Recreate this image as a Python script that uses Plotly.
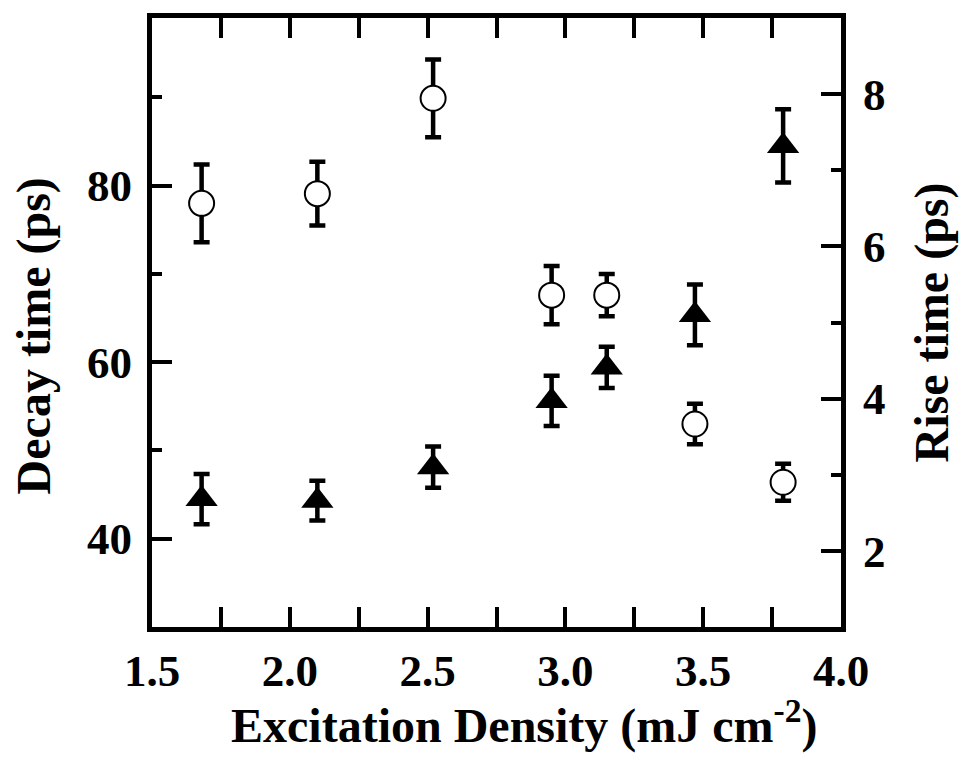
import plotly.graph_objects as go

# ---- data ----
density = [1.68, 2.10, 2.52, 2.95, 3.15, 3.47, 3.79]          # mJ cm^-2
decay_time = [78.0, 79.1, 89.9, 67.6, 67.6, 53.0, 46.4]       # ps (left axis)
decay_err = [4.4, 3.6, 4.4, 3.3, 2.4, 2.3, 2.1]
rise_time = [2.68, 2.66, 3.10, 3.97, 4.41, 5.10, 7.32]        # ps (right axis)
rise_err = [0.33, 0.26, 0.27, 0.33, 0.27, 0.40, 0.48]

x_ticks = [1.5, 2.0, 2.5, 3.0, 3.5, 4.0]
x_ticklabels = ["1.5", "2.0", "2.5", "3.0", "3.5", "4.0"]
left_ticks = [40, 60, 80]
right_ticks = [2, 4, 6, 8]

x_title = "Excitation Density (mJ cm<sup>-2</sup>)"
left_title = "Decay time (ps)"
right_title = "Rise time (ps)"

FONT = "Liberation Serif"
TICK_SIZE = 45
TITLE_SIZE = 48

fig = go.Figure()
fig.add_trace(go.Scatter(
    x=density, y=decay_time, mode="markers", yaxis="y",
    marker=dict(symbol="circle", size=25, color="white",
                line=dict(color="black", width=2)),
    error_y=dict(type="data", array=decay_err, visible=True,
                 color="black", thickness=4.5, width=8),
    showlegend=False,
))
fig.add_trace(go.Scatter(
    x=density, y=rise_time, mode="markers", yaxis="y2",
    marker=dict(symbol="triangle-up", size=28, color="black",
                line=dict(color="black", width=0)),
    error_y=dict(type="data", array=rise_err, visible=True,
                 color="black", thickness=4.5, width=8),
    showlegend=False,
))

axis_common = dict(
    showline=True, linecolor="black", linewidth=5,
    ticks="inside", ticklen=20, tickwidth=4, tickcolor="black",
    showgrid=False, zeroline=False,
    tickfont=dict(family=FONT, size=TICK_SIZE, color="black", weight="bold"),
)

title_font = dict(family=FONT, size=TITLE_SIZE, color="black", weight="bold")

fig.update_layout(
    width=960, height=760,
    margin=dict(l=152, r=119, t=18, b=133),
    paper_bgcolor="white", plot_bgcolor="white",
    font=dict(family=FONT, color="black", weight="bold"),
    xaxis=dict(
        range=[1.5, 4.0], tickvals=x_ticks, ticktext=x_ticklabels,
        mirror="allticks",
        minor=dict(dtick=0.25, tick0=1.5, ticks="inside", ticklen=10,
                   tickwidth=4, tickcolor="black"),
        **axis_common,
    ),
    yaxis=dict(
        range=[30, 99], tickvals=left_ticks,
        minor=dict(tickvals=[50, 70, 90], ticks="inside", ticklen=10,
                   tickwidth=4, tickcolor="black"),
        ticklabelstandoff=6,
        **axis_common,
    ),
    yaxis2=dict(
        range=[1, 9], tickvals=right_ticks, overlaying="y", side="right",
        minor=dict(tickvals=[3, 5, 7], ticks="inside", ticklen=10,
                   tickwidth=4, tickcolor="black"),
        ticklabelstandoff=8,
        **axis_common,
    ),
    annotations=[
        dict(text=x_title, xref="paper", yref="paper", x=0.541, y=-0.156,
             xanchor="center", yanchor="middle", showarrow=False, font=title_font),
        dict(text=left_title, xref="paper", yref="paper", x=-0.172, y=0.478,
             xanchor="center", yanchor="middle", textangle=-90,
             showarrow=False, font=title_font),
        dict(text=right_title, xref="paper", yref="paper", x=1.132, y=0.5,
             xanchor="center", yanchor="middle", textangle=-90,
             showarrow=False, font=title_font),
    ],
)

fig.write_html("out.html")
